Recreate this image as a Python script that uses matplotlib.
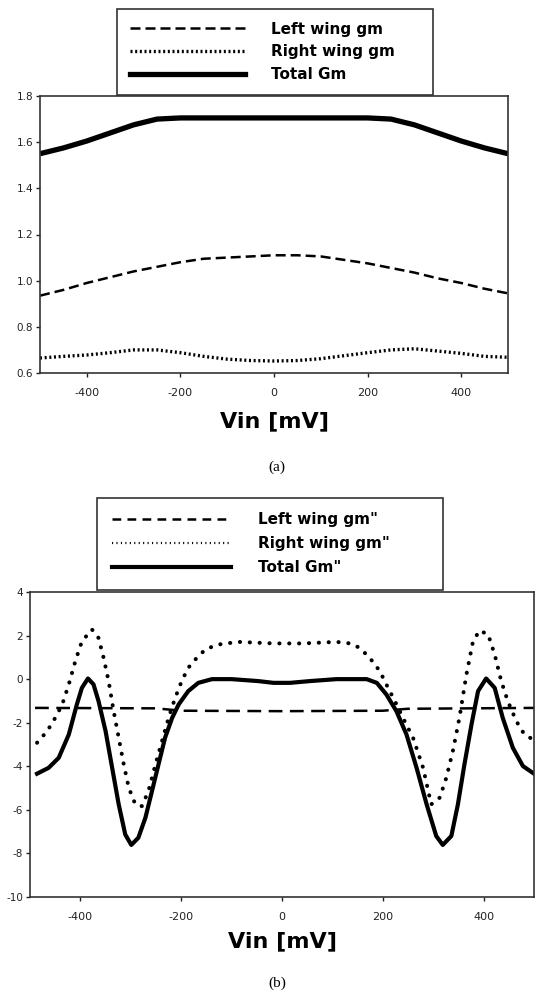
import matplotlib
matplotlib.use("Agg")
import matplotlib.pyplot as plt
import matplotlib.lines as mlines

plt.rcParams["font.family"] = ["DejaVu Sans"]
plt.rcParams["axes.unicode_minus"] = False

# ---- panel (a): transconductance ----
A_X = [-500, -450, -400, -350, -300, -250, -200, -150, -100, -50, 0,
       50, 100, 150, 200, 250, 300, 350, 400, 450, 500]
A_LEFT = [0.935, 0.96, 0.99, 1.015, 1.04, 1.06, 1.08, 1.095, 1.10, 1.105, 1.11,
          1.11, 1.105, 1.09, 1.075, 1.055, 1.035, 1.01, 0.99, 0.965, 0.945]
A_RIGHT = [0.665, 0.672, 0.678, 0.688, 0.70, 0.70, 0.688, 0.672, 0.66, 0.654, 0.652,
           0.654, 0.662, 0.675, 0.688, 0.70, 0.705, 0.695, 0.685, 0.672, 0.668]
A_TOTAL = [1.55, 1.575, 1.605, 1.64, 1.675, 1.70, 1.705, 1.705, 1.705, 1.705, 1.705,
           1.705, 1.705, 1.705, 1.705, 1.70, 1.675, 1.64, 1.605, 1.575, 1.55]

# ---- panel (b): second derivative ----
B_LEFT_X = [-490, -250, -200, 0, 200, 250, 500]
B_LEFT = [-1.32, -1.34, -1.45, -1.47, -1.45, -1.36, -1.32]

B_RIGHT_X = [-486, -466, -450, -436, -423, -410, -397, -377, -364, -354, -344, -334,
             -324, -314, -304, -291, -278, -265, -251, -238, -225, -212, -199, -186,
             -169, -152, -129, -87, -47, -17, 42, 108, 135, 154, 174, 194, 207, 224,
             240, 260, 280, 296, 313, 326, 339, 352, 366, 379, 392, 409, 422, 435,
             448, 465, 481, 498]
B_RIGHT = [-2.92, -2.39, -1.78, -1.16, -0.24, 0.83, 1.74, 2.28, 1.89, 0.98, -0.09, -1.47,
           -2.69, -3.91, -4.99, -5.75, -5.83, -5.14, -3.91, -2.84, -1.78, -0.86, -0.09, 0.52,
           0.98, 1.36, 1.58, 1.71, 1.67, 1.64, 1.64, 1.71, 1.64, 1.44, 0.98, 0.37, -0.24, -1.01,
           -1.78, -2.69, -4.07, -5.75, -5.44, -4.53, -3.30, -1.78, 0.22, 1.74, 2.23, 2.05, 1.13, -0.09,
           -1.01, -1.93, -2.54, -2.77]

B_TOTAL_X = [-486, -463, -443, -423, -407, -397, -385, -374, -364, -350, -337, -324,
             -311, -299, -285, -271, -258, -245, -232, -218, -205, -186, -166, -139,
             -100, -47, -17, 16, 55, 108, 168, 188, 207, 227, 247, 267, 287, 306, 319,
             336, 349, 362, 376, 389, 405, 422, 438, 458, 478, 500]
B_TOTAL = [-4.34, -4.07, -3.61, -2.54, -1.16, -0.40, 0.03, -0.24, -1.01, -2.39, -4.07, -5.75,
           -7.13, -7.61, -7.28, -6.36, -5.14, -3.91, -2.69, -1.78, -1.16, -0.55, -0.17, 0.0,
           0.0, -0.09, -0.17, -0.17, -0.09, 0.0, 0.0, -0.17, -0.70, -1.47, -2.54, -4.07, -5.75,
           -7.20, -7.61, -7.20, -5.75, -3.91, -2.08, -0.55, 0.03, -0.40, -1.78, -3.15, -3.99, -4.34]

X_TICKS = [-400, -200, 0, 200, 400]

fig = plt.figure(figsize=(5.36, 10), dpi=100)
ax1 = fig.add_axes([40 / 536, 1 - 373 / 1000, 468 / 536, 277 / 1000])
ax2 = fig.add_axes([30 / 536, 1 - 897 / 1000, 504 / 536, 305 / 1000])

dash_a = (0, (4, 2))
dot_a = (0, (0.6, 0.8))
dash_b = (0, (5.5, 3))
dot_b = (0, (0.05, 2.4))

ax1.plot(A_X, A_LEFT, color="black", lw=1.8, ls=dash_a)
ax1.plot(A_X, A_RIGHT, color="black", lw=2.4, ls=dot_a)
ax1.plot(A_X, A_TOTAL, color="black", lw=3.8, solid_capstyle="butt")
ax1.set_ylim(0.6, 1.8)
ax1.set_yticks([0.6, 0.8, 1.0, 1.2, 1.4, 1.6, 1.8])
ax1.set_yticklabels(["0.6", "0.8", "1.0", "1.2", "1.4", "1.6", "1.8"])

ax2.plot(B_LEFT_X, B_LEFT, color="black", lw=1.8, ls=dash_b)
ax2.plot(B_RIGHT_X, B_RIGHT, color="black", lw=2.9, ls=dot_b, dash_capstyle="round")
ax2.plot(B_TOTAL_X, B_TOTAL, color="black", lw=3.0, solid_joinstyle="round")
ax2.set_ylim(-10, 4)
ax2.set_yticks(range(-10, 5, 2))

for ax in (ax1, ax2):
    ax.set_xlim(-500, 500)
    ax.set_xticks(X_TICKS)
    ax.tick_params(direction="out", length=3, width=1, pad=7.5, labelsize=8, colors="#222222")
    ax.tick_params(axis="y", labelsize=7.5, pad=2)
    for sp in ax.spines.values():
        sp.set_linewidth(1.2)
        sp.set_color("#333333")
    ax.set_xlabel("Vin [mV]", fontsize=16, fontweight="bold", labelpad=10)

ax2.xaxis.labelpad = 7

fig.text(0.517, 1 - 467 / 1000, "(a)", ha="center", va="center",
         family="Liberation Serif", fontsize=11)
fig.text(0.517, 1 - 983 / 1000, "(b)", ha="center", va="center",
         family="Liberation Serif", fontsize=11)

handles_a = [
    mlines.Line2D([], [], color="black", lw=1.8, ls=dash_a, label="Left wing gm"),
    mlines.Line2D([], [], color="black", lw=2.4, ls=dot_a, label="Right wing gm"),
    mlines.Line2D([], [], color="black", lw=3.8, label="Total Gm"),
]
handles_b = [
    mlines.Line2D([], [], color="black", lw=1.8, ls=(0, (3.5, 2.5)), label='Left wing gm"'),
    mlines.Line2D([], [], color="black", lw=1.6, ls=(0, (0.5, 1.5)), label='Right wing gm"'),
    mlines.Line2D([], [], color="black", lw=3.0, label='Total Gm"'),
]

prop = {"family": "DejaVu Sans", "weight": "bold", "size": 11}
leg = fig.legend(handles=handles_a, loc="lower left", mode="expand", fancybox=False,
                 edgecolor="#333333", framealpha=1, handlelength=7.5, handletextpad=1.7,
                 labelspacing=0.5, borderpad=0.85, borderaxespad=0, prop=prop,
                 bbox_to_anchor=(117 / 536, 1 - 95 / 1000, 316 / 536, 90 / 1000))
leg.get_frame().set_linewidth(1.2)
leg2 = fig.legend(handles=handles_b, loc="lower left", mode="expand", fancybox=False,
                  edgecolor="#333333", framealpha=1, handlelength=7.8, handletextpad=1.8,
                  labelspacing=0.6, borderpad=0.95, borderaxespad=0, prop=prop,
                  bbox_to_anchor=(97 / 536, 1 - 590 / 1000, 346 / 536, 97 / 1000))
leg2.get_frame().set_linewidth(1.2)

fig.savefig("out.png", dpi=100)
